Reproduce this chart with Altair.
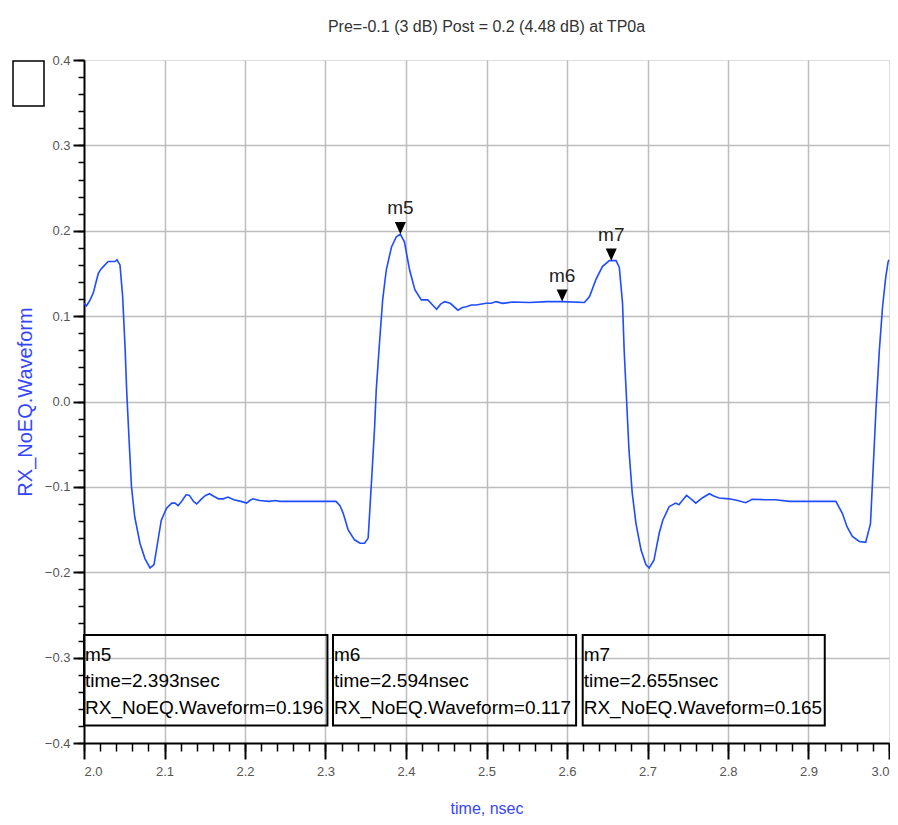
import altair as alt
import pandas as pd

# ---------------- data ----------------
time_ns = [
    2.000, 2.003, 2.007, 2.0115, 2.015, 2.0178, 2.021, 2.024, 2.030, 2.0385,
    2.041, 2.0447, 2.048, 2.051, 2.053, 2.056, 2.059, 2.063, 2.0695, 2.0757,
    2.082, 2.087, 2.092, 2.096, 2.1026, 2.109, 2.113, 2.117, 2.122, 2.127,
    2.131, 2.136, 2.140, 2.146, 2.151, 2.156, 2.161, 2.167, 2.173, 2.179,
    2.186, 2.195, 2.202, 2.206, 2.210, 2.218, 2.230, 2.238, 2.243, 2.313,
    2.318, 2.322, 2.328, 2.336, 2.343, 2.3486, 2.353, 2.357, 2.361, 2.363,
    2.367, 2.371, 2.3755, 2.382, 2.388, 2.393, 2.398, 2.4045, 2.411, 2.419,
    2.427, 2.431, 2.438, 2.443, 2.448, 2.455, 2.4645, 2.470, 2.475, 2.481,
    2.487, 2.4996, 2.506, 2.512, 2.520, 2.533, 2.5533, 2.575, 2.594, 2.6216,
    2.628, 2.636, 2.644, 2.6526, 2.655, 2.661, 2.665, 2.669, 2.671, 2.674,
    2.677, 2.681, 2.6857, 2.692, 2.698, 2.702, 2.708, 2.7146, 2.719, 2.727,
    2.735, 2.739, 2.744, 2.7485, 2.754, 2.760, 2.768, 2.7767, 2.783, 2.789,
    2.8015, 2.812, 2.822, 2.830, 2.845, 2.859, 2.876, 2.934, 2.942, 2.948,
    2.9545, 2.963, 2.971, 2.977, 2.981, 2.984, 2.988, 2.992, 2.996, 2.999,
    3.000,
]
waveform = [
    0.115, 0.112, 0.118, 0.127, 0.140, 0.150, 0.155, 0.158, 0.164, 0.164,
    0.166, 0.160, 0.123, 0.064, 0.013, -0.045, -0.100, -0.135, -0.166, -0.184,
    -0.195, -0.191, -0.162, -0.139, -0.125, -0.119, -0.119, -0.122, -0.116, -0.109,
    -0.110, -0.117, -0.120, -0.114, -0.110, -0.108, -0.111, -0.114, -0.114, -0.112,
    -0.115, -0.117, -0.119, -0.116, -0.114, -0.116, -0.117, -0.116, -0.117, -0.117,
    -0.122, -0.131, -0.150, -0.162, -0.166, -0.166, -0.160, -0.096, -0.030, 0.013,
    0.068, 0.119, 0.154, 0.181, 0.193, 0.196, 0.187, 0.154, 0.131, 0.119,
    0.119, 0.115, 0.108, 0.114, 0.117, 0.115, 0.107, 0.110, 0.111, 0.113,
    0.113, 0.115, 0.115, 0.117, 0.115, 0.1165, 0.116, 0.117, 0.117, 0.116,
    0.123, 0.143, 0.158, 0.165, 0.165, 0.165, 0.157, 0.115, 0.060, 0.002,
    -0.057, -0.107, -0.143, -0.174, -0.191, -0.195, -0.186, -0.154, -0.139, -0.123,
    -0.119, -0.121, -0.115, -0.110, -0.114, -0.119, -0.113, -0.108, -0.111, -0.113,
    -0.114, -0.116, -0.1185, -0.1145, -0.115, -0.115, -0.117, -0.117, -0.131, -0.147,
    -0.158, -0.164, -0.165, -0.143, -0.065, -0.006, 0.060, 0.111, 0.146, 0.164,
    0.166,
]

marker_names = ["m5", "m6", "m7"]
marker_time = [2.393, 2.594, 2.655]
marker_value = [0.196, 0.117, 0.165]

# marker readout boxes (data coordinates)
box_left = [2.0, 2.3093, 2.6195]
box_right = [2.3024, 2.6113, 2.9202]
box_top = -0.2734
box_bottom = -0.3796

x_major = [2.0, 2.1, 2.2, 2.3, 2.4, 2.5, 2.6, 2.7, 2.8, 2.9, 3.0]
y_major = [-0.4, -0.3, -0.2, -0.1, 0.0, 0.1, 0.2, 0.3, 0.4]
x_grid = x_major[1:-1]
y_grid = y_major[1:-1]
x_minor = [round(2.0 + 0.02 * i, 2) for i in range(51)]
y_minor = [round(-0.4 + 0.02 * i, 2) for i in range(41)]

title_text = "Pre=-0.1 (3 dB) Post = 0.2 (4.48 dB) at TP0a"
x_title = "time, nsec"
y_title = "RX_NoEQ.Waveform"

# ---------------- styles ----------------
FONT = "Liberation Sans, Arial, sans-serif"
BLUE = "#1f4cff"
TITLE_BLUE = "#3445ff"
W, H = 805, 683

wave_df = pd.DataFrame({"t": time_ns, "v": waveform})
mk_df = pd.DataFrame({"name": marker_names, "t": marker_time, "v": marker_value})
box_df = pd.DataFrame({
    "x1": box_left, "x2": box_right,
    "y1": [box_top] * 3, "y2": [box_bottom] * 3,
    "lines": [[n, f"time={t:.3f}nsec", f"RX_NoEQ.Waveform={v:.3f}"]
              for n, t, v in zip(marker_names, marker_time, marker_value)],
})

xs = alt.Scale(domain=[2.0, 3.0], nice=False, zero=False)
ys = alt.Scale(domain=[-0.4, 0.4], nice=False, zero=False)

# grid layer
grid = alt.Chart(wave_df).mark_point(opacity=0).encode(
    x=alt.X("t:Q", scale=xs, axis=alt.Axis(
        values=x_grid, orient="bottom", grid=True, gridColor="#bdbdbd",
        gridWidth=1.5, ticks=False, labels=False, domain=False, title=None)),
    y=alt.Y("v:Q", scale=ys, axis=alt.Axis(
        values=y_grid, orient="left", grid=True, gridColor="#bdbdbd",
        gridWidth=1.5, ticks=False, labels=False, domain=False, title=None)),
)

# minor ticks layer
minor = alt.Chart(wave_df).mark_point(opacity=0).encode(
    x=alt.X("t:Q", scale=xs, axis=alt.Axis(
        values=x_minor, orient="bottom", grid=False, ticks=True, tickSize=8,
        tickWidth=1.5, tickColor="black", labels=False, domain=False, title=None)),
    y=alt.Y("v:Q", scale=ys, axis=alt.Axis(
        values=y_minor, orient="left", grid=False, ticks=True, tickSize=6,
        tickWidth=1.5, tickColor="black", labels=False, domain=False, title=None)),
)

# main line with major axes
line = alt.Chart(wave_df).mark_line(color=BLUE, strokeWidth=1.6).encode(
    x=alt.X("t:Q", scale=xs, axis=alt.Axis(
        values=x_major, orient="bottom", format=".1f", grid=False,
        tickSize=16, tickWidth=2, tickColor="black",
        domainColor="black", domainWidth=2,
        labelFont=FONT, labelFontSize=13, labelColor="#555555", labelPadding=6,
        title=x_title, titleFont=FONT, titleFontSize=16, titleFontWeight="normal",
        titleColor=TITLE_BLUE, titleY=65, titleBaseline="middle")),
    y=alt.Y("v:Q", scale=ys, axis=alt.Axis(
        values=y_major, orient="left", format=".1f", grid=False,
        tickSize=11, tickWidth=2, tickColor="black",
        domainColor="black", domainWidth=2,
        labelFont=FONT, labelFontSize=13, labelColor="#555555", labelPadding=3,
        title=y_title, titleFont=FONT, titleFontSize=20, titleFontWeight="normal",
        titleColor=TITLE_BLUE, titleX=-59, titleY=H / 2, titleBaseline="middle",
        titleAngle=270)),
)

markers = alt.Chart(mk_df).mark_point(
    shape="M-1,-2.2L1,-2.2L0,0Z", filled=True, color="black", size=121, opacity=1
).encode(
    x=alt.X("t:Q", scale=xs, axis=None),
    y=alt.Y("v:Q", scale=ys, axis=None),
)

marker_labels = alt.Chart(mk_df).mark_text(
    font=FONT, fontSize=19, color="#222222", dy=-26, baseline="middle", align="center"
).encode(
    x=alt.X("t:Q", scale=xs, axis=None),
    y=alt.Y("v:Q", scale=ys, axis=None),
    text="name:N",
)

boxes = alt.Chart(box_df).mark_rect(
    fillOpacity=0, stroke="black", strokeWidth=2
).encode(
    x=alt.X("x1:Q", scale=xs, axis=None), x2="x2:Q",
    y=alt.Y("y1:Q", scale=ys, axis=None), y2="y2:Q",
)

box_text = alt.Chart(box_df).mark_text(
    font=FONT, fontSize=19, color="black", align="left", baseline="top",
    dx=1, dy=11, lineHeight=26.5
).encode(
    x=alt.X("x1:Q", scale=xs, axis=None),
    y=alt.Y("y1:Q", scale=ys, axis=None),
    text="lines:N",
)

corner_box = alt.Chart(pd.DataFrame({"k": [0]})).mark_rect(
    fillOpacity=0, stroke="black", strokeWidth=1.5
).encode(
    x=alt.value(-71), x2=alt.value(-40), y=alt.value(1), y2=alt.value(46),
)

chart = alt.layer(
    grid, minor, line, boxes, box_text, markers, marker_labels, corner_box
).resolve_axis(
    x="independent", y="independent"
).properties(
    width=W, height=H,
    autosize=alt.AutoSizeParams(type="none"),
    padding={"left": 76, "top": 52, "right": 1, "bottom": 74},
    title=alt.TitleParams(
        title_text, font=FONT, fontSize=16, fontWeight="normal",
        color="#333333", anchor="middle", frame="group", offset=6,
        baseline="alphabetic"),
).configure_view(
    stroke="black", strokeWidth=2
).configure(background="white")

chart.save("out.html", embed_options={"renderer": "svg", "actions": False})
